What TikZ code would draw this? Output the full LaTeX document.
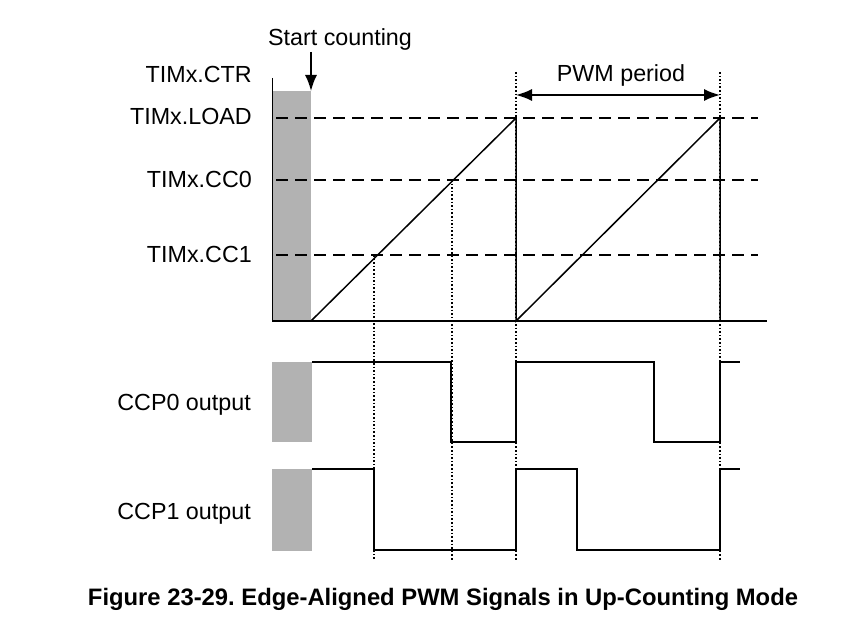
\documentclass[tikz,border=0pt]{standalone}
\usepackage{fontspec}
\setmainfont{Liberation Sans}
\usetikzlibrary{arrows.meta}
\tikzset{
  lvl/.style={line width=1.4pt, dash pattern=on 12pt off 7pt},
  guide/.style={line width=1.4pt, dash pattern=on 1.6pt off 2pt},
  sig/.style={line width=1.8pt},
  idle/.style={fill=gray!60, draw=none},
  lbl/.style={anchor=base east, inner sep=0pt}
}
\begin{document}
\frenchspacing
\begin{tikzpicture}[x=1pt, y=-1pt, font=\fontsize{23.3}{27}\selectfont, >={Latex[length=16pt,width=12pt]}]
    \useasboundingbox (0,0) rectangle (862,623);
    % counter levels and time marks
    \coordinate (load) at (276,118); \coordinate (cc0) at (276,180); \coordinate (cc1) at (276,255);
    \coordinate (t0) at (311,321); \coordinate (t1) at (374,255); \coordinate (t2) at (452,180);
    \coordinate (t3) at (516,118); \coordinate (t6) at (720,118);
    % labels
    \node[lbl] (ctrlbl) at (252,83) {TIMx.CTR};
    \node[lbl] (loadlbl) at (252,125) {TIMx.LOAD};
    \node[lbl] (cc0lbl) at (252,187) {TIMx.CC0};
    \node[lbl] (cc1lbl) at (252,262) {TIMx.CC1};
    \node[lbl] (ccp0lbl) at (251,410) {CCP0 output};
    \node[lbl] (ccp1lbl) at (251,519) {CCP1 output};
    \node[anchor=base, inner sep=0pt] (start) at (340,46) {Start counting};
    \node[anchor=base, inner sep=0pt] (period) at (621,82) {PWM period};
    \node[anchor=base, inner sep=0pt, font=\fontsize{23.8}{27}\selectfont\bfseries] (caption) at (443,605) {Figure 23-29. Edge-Aligned PWM Signals in Up-Counting Mode};
    % idle parts
    \fill[idle] (273,91.5) rectangle (311,321);
    \fill[idle] (272,361.5) rectangle (312,442);
    \fill[idle] (272,469) rectangle (312,550.5);
    % compare levels
    \draw[lvl] (load) -- (758,118);
    \draw[lvl] (cc0) -- (758,180);
    \draw[lvl] (cc1) -- (758,255);
    % guides
    \draw[guide] (t1) -- (374,560);
    \draw[guide] (t2) -- (452,560);
    \draw[guide] (516,72) -- (516,560);
    \draw[guide] (720,72) -- (720,560);
    % axes and counter
    \draw[sig] (272.5,78) -- (272.5,321) -- (767,321);
    \draw[line width=1.5pt] (t0) -- (t3) -- (516,321) -- (t6) -- (720,321);
    % outputs
    \draw[sig] (312,362) -- (451,362) -- (451,442) -- (516,442) -- (516,362) -- (654,362) -- (654,442) -- (720,442) -- (720,362) -- (740,362);
    \draw[sig] (312,469) -- (374,469) -- (374,550) -- (516,550) -- (516,469) -- (577,469) -- (577,550) -- (720,550) -- (720,469) -- (740,469);
    % arrows
    \draw[->, line width=1.6pt] (311,52) -- (311,91);
    \draw[<->, line width=1.6pt] (516,95) -- (720,95);
\end{tikzpicture}
\end{document}
